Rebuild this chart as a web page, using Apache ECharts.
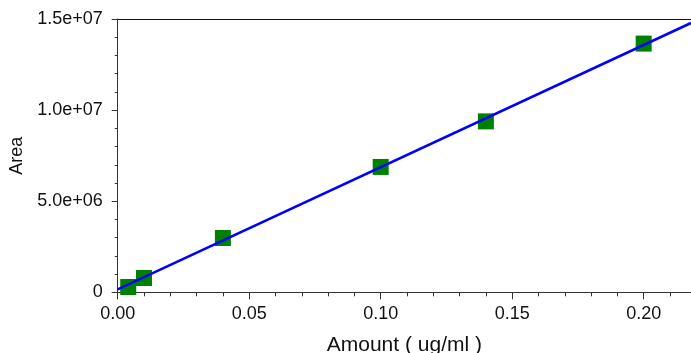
<!DOCTYPE html>
<html>
<head>
<meta charset="utf-8">
<script src="https://cdn.jsdelivr.net/npm/echarts@6/dist/echarts.min.js"></script>
<style>
html,body{margin:0;padding:0;background:#fff;}
#chart{width:691px;height:353px;}
</style>
</head>
<body>
<div id="chart"></div>
<script>
// Measured calibration points
var amounts = [0.004, 0.01, 0.04, 0.10, 0.14, 0.20];
var areas = [290000, 786000, 2980000, 6880000, 9380000, 13650000];
// Fitted line endpoints
var fitX = [0, 0.218];
var fitY = [160000, 14780000];

function fmtExp(v) {
  if (v === 0) return '0';
  var s = v.toExponential(1);
  return s.replace(/e([+-])(\d)$/, 'e$10$2');
}

var chart = echarts.init(document.getElementById('chart'), null, {renderer: 'canvas'});
var font = 'Liberation Sans, Arial, Helvetica, sans-serif';
chart.setOption({
  animation: false,
  backgroundColor: '#fff',
  grid: {left: 117.7, top: 19, right: 0, bottom: 60.7, containLabel: false, outerBoundsMode: 'none'},
  xAxis: [{
    type: 'value', position: 'bottom',
    min: 0, max: 0.218, interval: 0.05,
    name: 'Amount ( ug/ml )', nameLocation: 'middle', nameGap: 42,
    nameTextStyle: {fontFamily: font, fontSize: 21, color: '#111'},
    axisLine: {show: true, onZero: false, lineStyle: {color: '#333', width: 1}},
    axisTick: {show: true, inside: false, length: 7, lineStyle: {color: '#333'}},
    minorTick: {show: true, splitNumber: 5, length: 4, lineStyle: {color: '#333'}},
    splitLine: {show: false},
    axisLabel: {fontFamily: font, fontSize: 18, color: '#111', margin: 13,
      formatter: function (v) { return v.toFixed(2); },
      showMaxLabel: false}
  }, {
    type: 'value', position: 'top',
    min: 0, max: 0.218,
    axisLine: {show: true, onZero: false, lineStyle: {color: '#111', width: 1.2}},
    axisTick: {show: false}, axisLabel: {show: false}, splitLine: {show: false}
  }],
  yAxis: {
    type: 'value', min: 0, max: 15000000, interval: 5000000,
    name: 'Area', nameLocation: 'middle', nameGap: 91,
    nameTextStyle: {fontFamily: font, fontSize: 18, color: '#111'},
    axisLine: {show: true, lineStyle: {color: '#333', width: 1}},
    axisTick: {show: true, length: 6, lineStyle: {color: '#333'}},
    minorTick: {show: true, splitNumber: 5, length: 3, lineStyle: {color: '#333'}},
    splitLine: {show: false},
    axisLabel: {fontFamily: font, fontSize: 18, color: '#111', margin: 15,
      padding: [4, 0, 0, 0],
      formatter: fmtExp}
  },
  series: [{
    type: 'scatter',
    symbol: 'rect', symbolSize: 16,
    itemStyle: {color: '#008000', opacity: 1},
    data: amounts.map(function (a, i) { return [a, areas[i]]; }),
    z: 2
  }, {
    type: 'line',
    showSymbol: false, symbol: 'none',
    lineStyle: {color: '#0000ff', width: 2.5},
    data: fitX.map(function (x, i) { return [x, fitY[i]]; }),
    z: 3
  }]
});
</script>
</body>
</html>
